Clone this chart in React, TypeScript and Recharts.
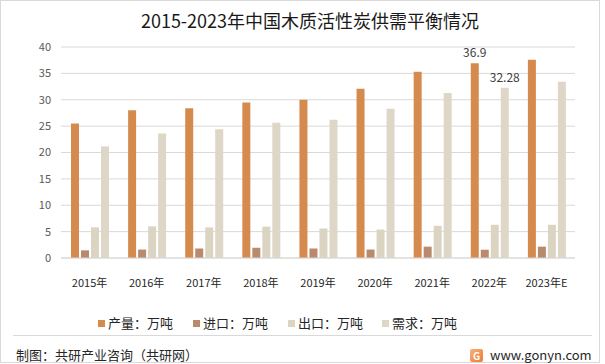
import React from "react";
import {
  BarChart,
  Bar,
  XAxis,
  YAxis,
  CartesianGrid,
  LabelList,
} from "recharts";

const years = ["2015年", "2016年", "2017年", "2018年", "2019年", "2020年", "2021年", "2022年", "2023年E"];
const production = [25.5, 28.0, 28.4, 29.5, 30.0, 32.1, 35.3, 36.9, 37.6];
const imports = [1.45, 1.6, 1.8, 1.95, 1.8, 1.6, 2.15, 1.57, 2.15];
const exports = [5.8, 6.0, 5.8, 5.95, 5.6, 5.4, 6.1, 6.3, 6.3];
const demand = [21.15, 23.6, 24.4, 25.65, 26.2, 28.3, 31.3, 32.28, 33.4];
const productionLabels = [null, null, null, null, null, null, null, "36.9", null];
const demandLabels = [null, null, null, null, null, null, null, "32.28", null];
const yTicks = [0, 5, 10, 15, 20, 25, 30, 35, 40];

const data = years.map((year, i) => ({
  year,
  production: production[i],
  imports: imports[i],
  exports: exports[i],
  demand: demand[i],
  productionLabel: productionLabels[i],
  demandLabel: demandLabels[i],
}));

const COLORS = {
  production: "#D58B4E",
  imports: "#B98A6D",
  exports: "#DCD4C3",
  demand: "#DED7C7",
};

const FONT = '"Noto Sans CJK SC", "Noto Sans", sans-serif';

// only draw the label when a value is set for that year
const renderLabel = (props: any) => {
  const { x, y, width, value } = props;
  if (value === null || value === undefined) return null;
  return (
    <text
      x={x + width / 2}
      y={y - 6}
      textAnchor="middle"
      fill="#404040"
      fontSize={12}
      fontFamily={FONT}
    >
      {value}
    </text>
  );
};

const legendItems = [
  { name: "产量：万吨", color: COLORS.production, x: 98 },
  { name: "进口：万吨", color: COLORS.imports, x: 193 },
  { name: "出口：万吨", color: COLORS.exports, x: 288 },
  { name: "需求：万吨", color: COLORS.demand, x: 382 },
];

export default function App() {
  return (
    <div
      style={{
        position: "absolute",
        left: 0,
        top: 0,
        width: 605,
        height: 364,
        background: "#fff",
        fontFamily: FONT,
        overflow: "hidden",
      }}
    >
      <div
        style={{
          position: "absolute",
          left: 0,
          top: 0,
          width: 598,
          height: 361,
          border: "1px solid #D9D9D9",
        }}
      />
      <div
        style={{
          position: "absolute",
          left: 0,
          top: 7,
          width: 620,
          textAlign: "center",
          fontSize: 18,
          color: "#1a1a1a",
          lineHeight: "26px",
        }}
      >
        2015-2023年中国木质活性炭供需平衡情况
      </div>

      <div style={{ position: "absolute", left: 0, top: 0 }}>
        <BarChart
          width={605}
          height={364}
          data={data}
          margin={{ top: 47, right: 30, bottom: 76, left: 21 }}
          barSize={8}
          barGap={2}
        >
          <CartesianGrid vertical={false} stroke="#D9D9D9" />
          <XAxis
            dataKey="year"
            height={30}
            axisLine={{ stroke: "#D9D9D9" }}
            tickLine={false}
            tickMargin={15}
            interval={0}
            tick={{ fill: "#262626", fontSize: 11, fontFamily: FONT }}
          />
          <YAxis
            width={40}
            domain={[0, 40]}
            ticks={yTicks}
            axisLine={false}
            tickLine={false}
            tickSize={0}
            tickMargin={10}
            tick={{ fill: "#595959", fontSize: 11, fontFamily: FONT }}
          />
          <Bar dataKey="production" name="产量：万吨" fill={COLORS.production} isAnimationActive={false}>
            <LabelList dataKey="productionLabel" content={renderLabel} />
          </Bar>
          <Bar dataKey="imports" name="进口：万吨" fill={COLORS.imports} isAnimationActive={false} />
          <Bar dataKey="exports" name="出口：万吨" fill={COLORS.exports} isAnimationActive={false} />
          <Bar dataKey="demand" name="需求：万吨" fill={COLORS.demand} isAnimationActive={false}>
            <LabelList dataKey="demandLabel" content={renderLabel} />
          </Bar>
        </BarChart>
      </div>

      {legendItems.map((item) => (
        <div
          key={item.name}
          style={{
            position: "absolute",
            left: item.x,
            top: 314,
            display: "flex",
            alignItems: "center",
            fontSize: 13,
            lineHeight: "18px",
            color: "#262626",
            whiteSpace: "nowrap",
          }}
        >
          <span
            style={{
              display: "inline-block",
              width: 7,
              height: 7,
              background: item.color,
              marginRight: 3,
            }}
          />
          {item.name}
        </div>
      ))}

      <div
        style={{
          position: "absolute",
          left: 13,
          top: 335,
          width: 579,
          height: 1,
          background: "#D9D9D9",
        }}
      />
      <div
        style={{
          position: "absolute",
          left: 16,
          top: 346,
          fontSize: 13,
          color: "#262626",
          lineHeight: "18px",
          whiteSpace: "nowrap",
        }}
      >
        制图：共研产业咨询（共研网）
      </div>
      <div
        style={{
          position: "absolute",
          left: 470,
          top: 349,
          width: 13,
          height: 13,
          borderRadius: 2,
          background: "linear-gradient(135deg, #F6B27A, #EE7B3A)",
          color: "#fff",
          fontSize: 10,
          lineHeight: "13px",
          textAlign: "center",
          fontWeight: 700,
        }}
      >
        G
      </div>
      <div
        style={{
          position: "absolute",
          left: 490,
          top: 346,
          fontSize: 13,
          color: "#262626",
          lineHeight: "18px",
          whiteSpace: "nowrap",
        }}
      >
        www.gonyn.com
      </div>
    </div>
  );
}
